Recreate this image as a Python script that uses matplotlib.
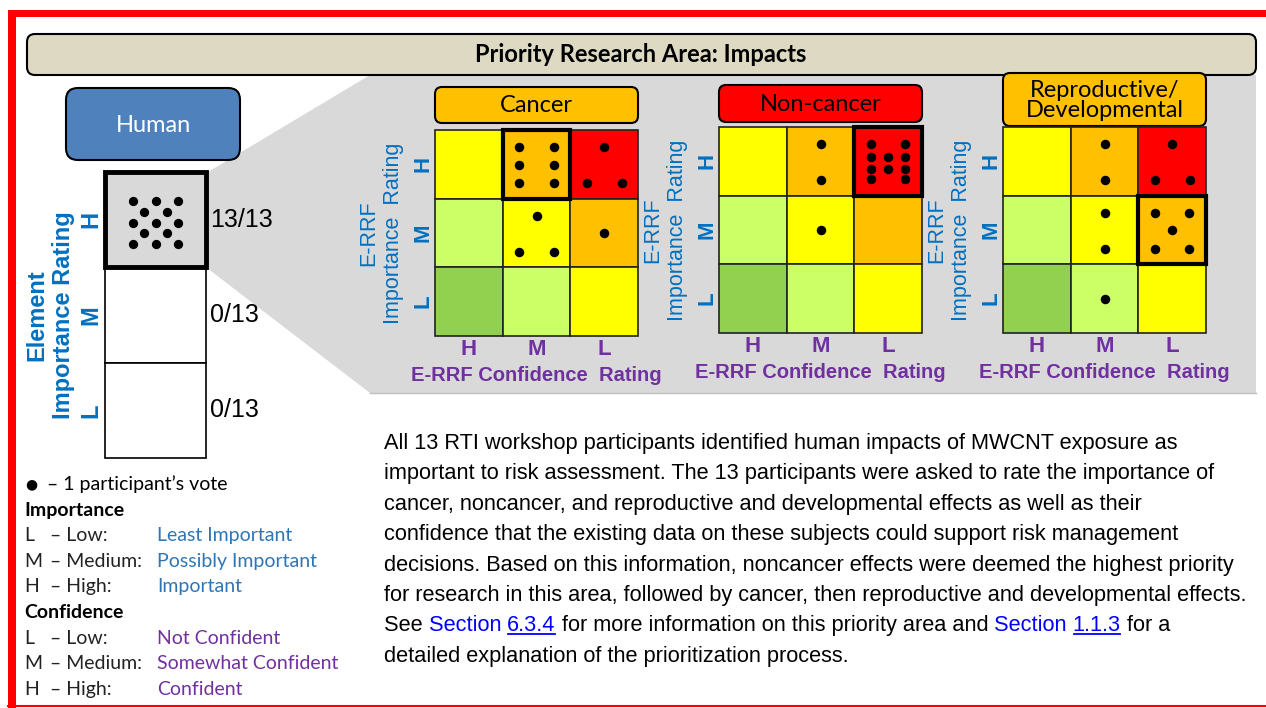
import matplotlib
matplotlib.use("Agg")
import matplotlib.pyplot as plt
from matplotlib.patches import FancyBboxPatch, Rectangle, Polygon
import numpy as np

# ---------------- data ----------------
levels = ["H", "M", "L"]
categories = ["Cancer", "Non-cancer", "Reproductive/\nDevelopmental"]
category_colors = ["#FFC000", "#FF0000", "#FFC000"]

# votes[importance H/M/L][confidence H/M/L]
cancer_votes = [[0, 6, 3], [0, 3, 1], [0, 0, 0]]
noncancer_votes = [[0, 2, 10], [0, 1, 0], [0, 0, 0]]
repro_votes = [[0, 2, 3], [0, 2, 5], [0, 1, 0]]
top_cells = [(0, 1), (0, 2), (1, 2)]

human_votes = [13, 0, 0]
n_participants = 13

legend_levels = ["L", "M", "H"]
legend_names = ["Low:", "Medium:", "High:"]
importance_desc = ["Least Important", "Possibly Important", "Important"]
confidence_desc = ["Not Confident", "Somewhat Confident", "Confident"]

para_lines = [
    "All 13 RTI workshop participants identified human impacts of MWCNT exposure as",
    "important to risk assessment. The 13 participants were asked to rate the importance of",
    "cancer, noncancer, and reproductive and developmental effects as well as their",
    "confidence that the existing data on these subjects could support risk management",
    "decisions. Based on this information, noncancer effects were deemed the highest priority",
    "for research in this area, followed by cancer, then reproductive and developmental effects.",
    None,
    "detailed explanation of the prioritization process.",
]
link_line = [("See ", False, False), ("Section ", True, False), ("6.3.4", True, True),
             (" for more information on this priority area and ", False, False),
             ("Section ", True, False), ("1.1.3", True, True), (" for a", False, False)]

# ---------------- style ----------------
W, H = 1266, 708
BLUE = "#0070C0"
PURPLE = "#7030A0"
LEG_BLUE = "#2E75B6"
LINK = "#0000FF"
CELL_COLORS = [["#FFFF00", "#FFC000", "#FF0000"],
               ["#CCFF66", "#FFFF00", "#FFC000"],
               ["#92D050", "#CCFF66", "#FFFF00"]]
CAL = ["Lato", "DejaVu Sans"]
ARIAL = "Liberation Sans"
NARROW = ["Liberation Sans Narrow", "Liberation Sans"]
PARA_SIZE = 15.7

# dot arrangements inside a cell (offset from centre, fraction of cell)
DOTS = {
    1: [(0, 0)],
    2: [(0, -0.25), (0, 0.27)],
    3: [(0, -0.25), (-0.26, 0.27), (0.26, 0.27)],
    5: [(-0.25, -0.25), (0.25, -0.25), (0, 0), (-0.25, 0.27), (0.25, 0.27)],
    6: [(-0.26, -0.25), (0.26, -0.25), (-0.26, 0.01), (0.26, 0.01),
        (-0.26, 0.27), (0.26, 0.27)],
    10: [(-0.25, -0.25), (-0.25, -0.07), (-0.25, 0.11), (-0.25, 0.26),
         (0, -0.07), (0, 0.11),
         (0.25, -0.25), (0.25, -0.07), (0.25, 0.11), (0.25, 0.26)],
    13: [(-0.218, -0.23), (0, -0.23), (0.218, -0.23), (-0.109, -0.115), (0.109, -0.115),
         (-0.218, 0), (0, 0), (0.218, 0), (-0.109, 0.115), (0.109, 0.115),
         (-0.218, 0.23), (0, 0.23), (0.218, 0.23)],
}

fig = plt.figure(figsize=(W / 100, H / 100), dpi=100)
ax = fig.add_axes([0, 0, 1, 1])
ax.set_xlim(0, W)
ax.set_ylim(H, 0)
ax.axis("off")


def px_axes(left, top, right, bottom):
    return fig.add_axes([left / W, 1 - bottom / H, (right - left) / W, (bottom - top) / H])


# frame
ax.add_patch(Rectangle((8, 10), W - 8, 7, fc="#FF0000", ec="none"))
ax.add_patch(Rectangle((8, 10), 8, H - 10, fc="#FF0000", ec="none"))
ax.plot([8, W], [706, 706], color="#FF0000", lw=1.5)

# zoom-out grey area and title bar
ax.add_patch(Polygon([(208, 172), (370, 75), (1256, 75), (1256, 393), (370, 393), (207, 268)],
                     closed=True, fc="#D9D9D9", ec="none", zorder=0))
ax.plot([370, 1256], [393, 393], color="#BFBFBF", lw=1, zorder=0.5)
ax.add_patch(FancyBboxPatch((27, 34), 1229, 41, boxstyle="round,pad=0,rounding_size=8",
                            fc="#DDD9C3", ec="black", lw=1.5, zorder=2))
ax.text(641, 55, "Priority Research Area: Impacts", ha="center", va="center",
        fontsize=17, fontweight="bold", family=CAL, zorder=3)

# Human box
ax.add_patch(FancyBboxPatch((66, 88), 174, 72, boxstyle="round,pad=0,rounding_size=12",
                            fc="#4F81BD", ec="black", lw=1.5, zorder=2))
ax.text(153, 125, "Human", ha="center", va="center", color="white", fontsize=17, family=CAL, zorder=3)

# human importance column
hx = px_axes(105, 172, 206, 458)
hx.set_xlim(0, 1)
hx.set_ylim(3, 0)
for s in hx.spines.values():
    s.set_visible(False)
for r in range(3):
    hx.add_patch(Rectangle((0, r), 1, 1, fc="#D9D9D9" if human_votes[r] else "white",
                           ec="black", lw=1.2, clip_on=False))
    n = human_votes[r]
    if n:
        offs = np.array(DOTS[n])
        hx.scatter(0.5 + offs[:, 0], r + 0.53 + offs[:, 1], s=32, c="black", zorder=3, clip_on=False)
        hx.add_patch(Rectangle((0, r), 1, 1, fill=False, ec="black", lw=3.5, zorder=4, clip_on=False))
    hx.text(1.04, r + 0.5, f"{n}/{n_participants}", ha="left", va="center", fontsize=18, family=ARIAL)
hx.set_xticks([])
hx.set_yticks([0.5, 1.5, 2.5], labels=levels, rotation=90, va="center", color=BLUE,
              fontsize=17, fontweight="bold", family=ARIAL)
hx.tick_params(axis="y", length=0, pad=2)
hx.set_ylabel("Element\nImportance Rating", color=BLUE, fontsize=17, fontweight="bold",
              family=ARIAL, linespacing=1.2)
hx.yaxis.set_label_coords(-0.30, 0.5)

# E-RRF grids
grid_lefts = [435, 719, 1003]
grid_tops = [130, 127, 127]
grid_w, grid_h = 203, 206
box_tops = [87, 85, 73]
box_bottoms = [123, 122, 126]
for k, votes in enumerate([cancer_votes, noncancer_votes, repro_votes]):
    gl, gt = grid_lefts[k], grid_tops[k]
    ax.add_patch(FancyBboxPatch((gl, box_tops[k]), grid_w, box_bottoms[k] - box_tops[k],
                                boxstyle="round,pad=0,rounding_size=7",
                                fc=category_colors[k], ec="black", lw=1.5, zorder=2))
    ax.text(gl + grid_w / 2, (box_tops[k] + box_bottoms[k]) / 2 + 1, categories[k],
            ha="center", va="center", fontsize=17, family=CAL, linespacing=0.95, zorder=3)

    gx = px_axes(gl, gt, gl + grid_w, gt + grid_h)
    gx.set_xlim(0, 3)
    gx.set_ylim(3, 0)
    for s in gx.spines.values():
        s.set_visible(False)
    for r in range(3):
        for c in range(3):
            gx.add_patch(Rectangle((c, r), 1, 1, fc=CELL_COLORS[r][c], ec="#222222",
                                   lw=1.2, clip_on=False))
            n = votes[r][c]
            if n:
                offs = np.array(DOTS[n])
                gx.scatter(c + 0.5 + offs[:, 0], r + 0.5 + offs[:, 1], s=34, c="black",
                           zorder=3, clip_on=False)
    r, c = top_cells[k]
    gx.add_patch(Rectangle((c, r), 1, 1, fill=False, ec="black", lw=3, zorder=4, clip_on=False))

    gx.set_xticks([0.5, 1.5, 2.5], labels=levels, color=PURPLE, fontsize=16,
                  fontweight="bold", family=ARIAL)
    gx.set_yticks([0.5, 1.5, 2.5], labels=levels, rotation=90, va="center", color=BLUE,
                  fontsize=16, fontweight="bold", family=ARIAL)
    gx.tick_params(length=0)
    gx.tick_params(axis="x", pad=2)
    gx.tick_params(axis="y", pad=1)
    gx.set_xlabel("E-RRF Confidence  Rating", color=PURPLE, fontsize=14.5,
                  fontweight="bold", family=ARIAL)
    gx.xaxis.set_label_coords(0.5, -0.145)
    gx.set_ylabel("E-RRF\nImportance  Rating", color=BLUE, fontsize=15.5,
                  family=ARIAL, linespacing=1.2)
    gx.yaxis.set_label_coords(-0.155, 0.5)

# legend block
lb0, lstep = 490, 25.6
ax.text(31, 484, "●", ha="center", va="center", fontsize=10, family=["DejaVu Sans"])
ax.text(47, lb0, "– 1 participant’s vote", va="baseline", fontsize=14, family=CAL)
for g, (head, desc, col) in enumerate([("Importance", importance_desc, LEG_BLUE),
                                        ("Confidence", confidence_desc, PURPLE)]):
    yb = lb0 + lstep * (1 + 4 * g)
    ax.text(24, yb, head, va="baseline", fontsize=14, fontweight="bold", family=CAL)
    for i in range(3):
        y = yb + lstep * (i + 1)
        ax.text(24, y, legend_levels[i], va="baseline", fontsize=14, family=CAL, color="#222222")
        ax.text(50, y, "– " + legend_names[i], va="baseline", fontsize=14, family=CAL, color="#222222")
        ax.text(157, y, desc[i], va="baseline", fontsize=14, family=CAL, color=col)

# paragraph
pb0, pstep = 449, 30.4
links = []
for i, line in enumerate(para_lines):
    y = pb0 + pstep * i
    if line is not None:
        ax.text(384, y, line, va="baseline", fontsize=PARA_SIZE, family=NARROW)
        continue
    t = ax.text(384, y, link_line[0][0], va="baseline", fontsize=PARA_SIZE, family=NARROW)
    for s, is_link, under in link_line[1:]:
        t = ax.annotate(s, xy=(1, 0), xycoords=t, va="bottom", fontsize=PARA_SIZE, family=NARROW,
                        color=LINK if is_link else "black")
        if under:
            links.append((t, y))

fig.canvas.draw()
inv = ax.transData.inverted()
for t, y in links:
    bb = t.get_window_extent()
    x0 = inv.transform((bb.x0, bb.y0))[0]
    x1 = inv.transform((bb.x1, bb.y0))[0]
    ax.plot([x0 + 1, x1 - 1], [y + 3, y + 3], color=LINK, lw=1.3)

fig.savefig("out.png", dpi=100)
